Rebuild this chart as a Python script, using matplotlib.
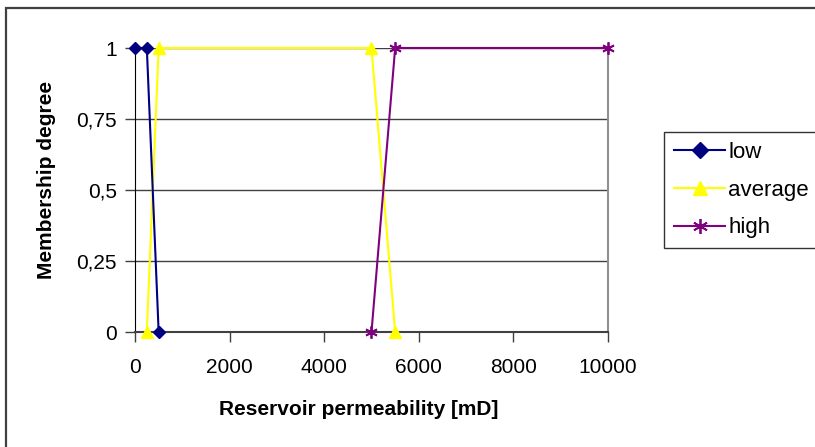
import matplotlib.pyplot as plt
from matplotlib.patches import Rectangle
from matplotlib.ticker import FixedLocator, FuncFormatter

# membership functions
low_x = [0, 250, 500]
low_y = [1, 1, 0]
avg_x = [250, 500, 5000, 5500]
avg_y = [0, 1, 1, 0]
high_x = [5000, 5500, 10000]
high_y = [0, 1, 1]

x_ticks = [0, 2000, 4000, 6000, 8000, 10000]
y_ticks = [0, 0.25, 0.5, 0.75, 1]

plt.rcParams["font.family"] = ["Liberation Sans", "DejaVu Sans"]

fig = plt.figure(figsize=(8.15, 4.47), dpi=100)
W, H = 815, 447
ax = fig.add_axes([135 / W, 1 - 332 / H, (608 - 135) / W, (332 - 48) / H])

# outer chart frame
fig.patches.append(Rectangle((6 / W, -0.1), 1.2, 1 - 8 / H + 0.1,
                             transform=fig.transFigure, fill=False,
                             edgecolor="#404040", linewidth=1.6))

ax.plot(low_x, low_y, color="#000080", marker="D", markersize=6.5,
        linewidth=1.5, label="low", clip_on=False, zorder=5)
ax.plot(avg_x, avg_y, color="#ffff00", marker="^", markersize=8,
        linewidth=1.5, label="average", clip_on=False, zorder=4)
ax.plot(high_x, high_y, color="#800080", marker=(6, 2, 0), markersize=9,
        markeredgewidth=1.3, linewidth=1.5, label="high", clip_on=False,
        zorder=4)

ax.set_xlim(0, 10000)
ax.set_ylim(0, 1)
ax.xaxis.set_major_locator(FixedLocator(x_ticks))
ax.yaxis.set_major_locator(FixedLocator(y_ticks))
ax.yaxis.set_major_formatter(
    FuncFormatter(lambda v, p: ("%g" % v).replace(".", ",")))
ax.tick_params(labelsize=15, length=7, width=1, color="#404040", pad=6)
ax.tick_params(axis="x", pad=12)

ax.grid(axis="y", color="#404040", linewidth=1)
ax.set_axisbelow(True)
ax.spines["top"].set_visible(False)
ax.spines["right"].set_color("#909090")
ax.spines["right"].set_linewidth(1.5)
ax.spines["left"].set_color("black")
ax.spines["bottom"].set_color("#404040")
ax.spines["bottom"].set_linewidth(1.5)

ax.set_xlabel("Reservoir permeability [mD]", fontsize=15, fontweight="bold")
ax.set_ylabel("Membership degree", fontsize=15, fontweight="bold")
ax.xaxis.set_label_coords(0.472, -0.24)
ax.yaxis.set_label_coords(-0.167, 0.535)

leg = fig.legend(loc="upper left", bbox_to_anchor=(664 / W, 1 - 132 / H),
                 fontsize=16, frameon=True, fancybox=False, edgecolor="black",
                 handlelength=2.3, labelspacing=0.75, borderpad=0.45,
                 handletextpad=0.15, borderaxespad=0, markerscale=1.2)
leg.get_frame().set_linewidth(1)

fig.savefig("out.png", dpi=100)
